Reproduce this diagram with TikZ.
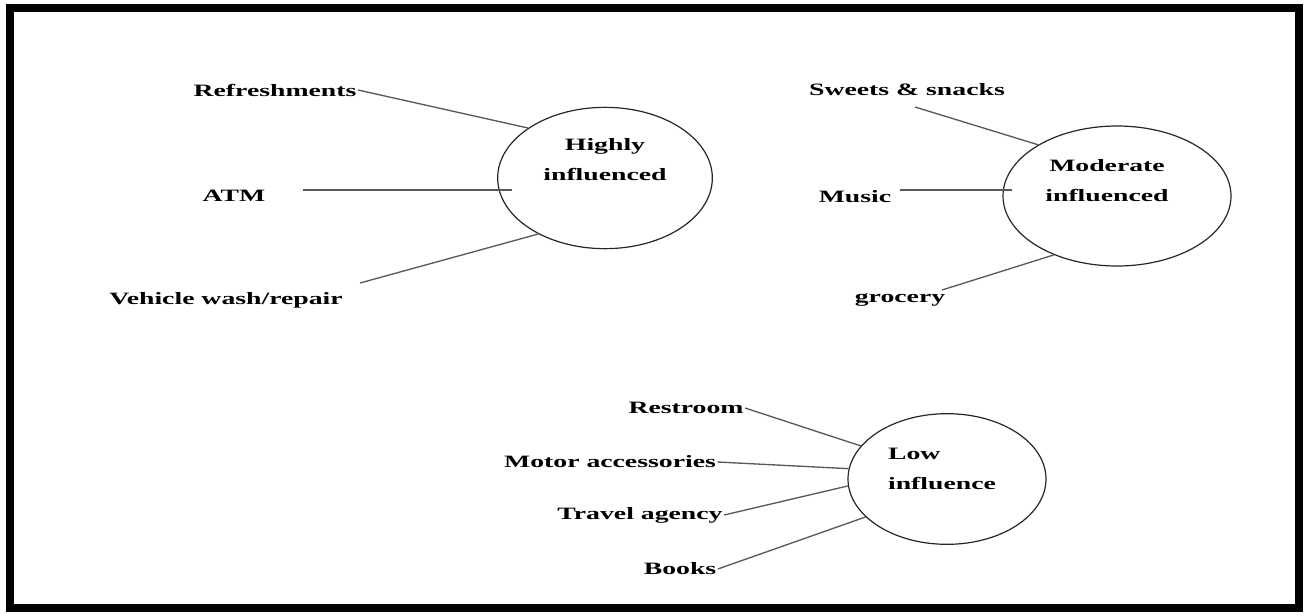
\documentclass[tikz,border=0pt]{standalone}
\usepackage{fontspec}
\setmainfont{Liberation Serif}[FakeStretch=1.6]
\usetikzlibrary{shapes.geometric}

\tikzset{
	item/.style={font=\fontsize{13}{16}\selectfont\bfseries, inner sep=1pt},
	group/.style={ellipse, draw=black!85, line width=0.9pt, inner sep=0pt},
	grouptext/.style={font=\fontsize{13}{22.5}\selectfont\bfseries, align=center, inner sep=0pt},
	link/.style={draw=black!65, line width=1pt}
}

\begin{document}
\begin{tikzpicture}[x=0.75pt, y=-0.75pt]
	\useasboundingbox (0,0) rectangle (1306,615);
	% Frame:
	\draw[line width=6pt] (10,8) rectangle (1299,608);
	% Groups:
	\node[group, minimum width=161pt, minimum height=106pt] (high) at (605,178) {};
	\node[grouptext] (high-txt) at (605,160) {Highly\\influenced};
	\node[group, minimum width=171pt, minimum height=105pt] (mod) at (1117,196) {};
	\node[grouptext] (mod-txt) at (1107,181) {Moderate\\influenced};
	\node[group, minimum width=148.5pt, minimum height=98pt] (low) at (947,479) {};
	\node[grouptext, align=left] (low-txt) at (942,469) {Low\\influence};
	% Items:
	\node[item] (refresh) at (275,90) {Refreshments};
	\node[item] (atm) at (234,196) {ATM};
	\node[item] (vehicle) at (226,300) {Vehicle wash/repair};
	\node[item] (sweets) at (907,90) {Sweets \& snacks};
	\node[item] (music) at (855,197) {Music};
	\node[item] (grocery) at (900,300) {grocery};
	\node[item] (restroom) at (686,408) {Restroom};
	\node[item] (motor) at (610,462) {Motor accessories};
	\node[item] (travel) at (640,515) {Travel agency};
	\node[item] (books) at (680,569) {Books};
	% Free line ends:
	\coordinate (atm-end) at (303,190);
	\coordinate (vehicle-end) at (360,283);
	\coordinate (sweets-end) at (915,107);
	\coordinate (music-end) at (900,190);
	\coordinate (grocery-end) at (942,290);
	% Links:
	\draw[link] (refresh.east) -- (high.147);
	\draw[link, shorten >=-11pt] (atm-end) -- (atm-end -| high.west);
	\draw[link] (vehicle-end) -- (high.220);
	\draw[link] (sweets-end) -- (mod.147);
	\draw[link, shorten >=-7pt] (music-end) -- (music-end -| mod.west);
	\draw[link] (grocery-end) -- (mod.223);
	\draw[link] (restroom.east) -- (low.159);
	\draw[link] (motor.east) -- (low.174);
	\draw[link] (travel.east) -- (low.184);
	\draw[link] (books.east) -- (low.205);
\end{tikzpicture}
\end{document}
